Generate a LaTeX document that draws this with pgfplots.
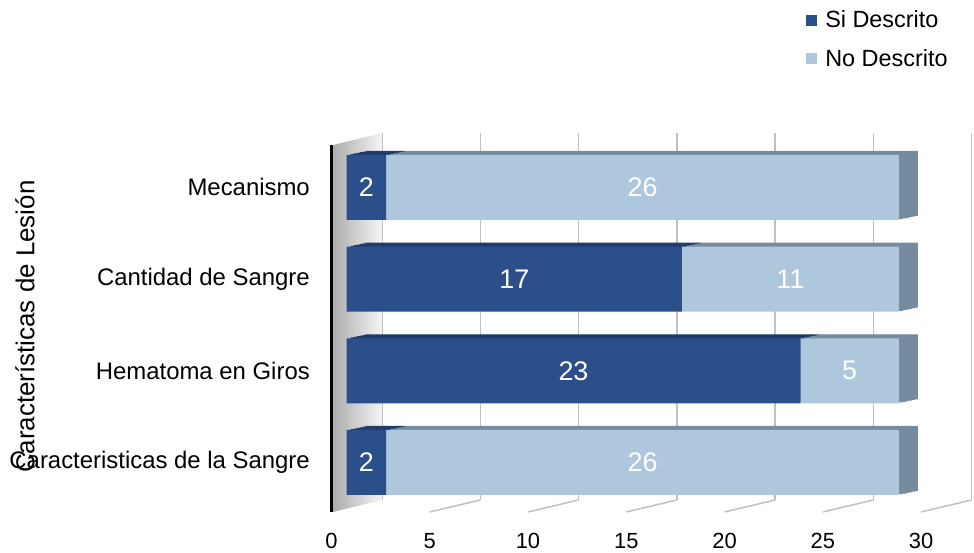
\documentclass[border=0pt]{standalone}
\usepackage{fontspec}
\setmainfont{Liberation Sans}
\usepackage{pgfplots}
\usepackage{pgfplotstable}
\pgfplotsset{compat=1.18}
\definecolor{siblue}{HTML}{2A4F8A}
\definecolor{noblue}{HTML}{AEC7DD}
\definecolor{sitop}{HTML}{1F3C6A}
\definecolor{notop}{HTML}{768B9D}
\definecolor{gridc}{HTML}{C0C0C0}

\pgfplotstableread{
cat si no
0 2 26
1 23 5
2 17 11
3 2 26
}\datatable

\pgfplotsset{
  barbase/.style={
    scale only axis, width=591.6bp, height=367bp,
    xmin=0, xmax=30, ymin=-0.54, ymax=3.463,
    xbar stacked, bar width=65bp,
    hide axis, anchor=south west, clip=false,
  }
}

\begin{document}
\begin{tikzpicture}
% back wall grid
\begin{axis}[scale only axis, width=589.5bp, height=367bp,
  xmin=0, xmax=30, ymin=0, ymax=1, at={(382bp,53bp)}, anchor=south west,
  axis line style={draw=none}, xtick={0,5,...,30}, xticklabels={}, ytick=\empty,
  major tick length=0, xmajorgrids, grid style={gridc, line width=1.5bp}, clip=false]
\pgfplotsinvokeforeach{5,10,...,30}{
  \draw[gridc, line width=1.5bp] (axis cs:#1,0) -- ++(-50.5bp,-12bp);
}
\end{axis}
% side wall
\shade[left color=gray!65, right color=gray!8] (333bp,41bp) -- (333bp,408bp) -- (382bp,420bp) -- (382bp,53bp) -- cycle;
% front frame axis
\begin{axis}[scale only axis, width=589.5bp, height=367bp,
  xmin=0, xmax=30, ymin=-0.54, ymax=3.463, at={(331.5bp,41bp)}, anchor=south west,
  axis lines*=left, x axis line style={draw=none}, y axis line style={black, line width=2bp},
  major tick length=0,
  xtick={0,5,...,30}, ytick={0,1,2,3},
  yticklabels={Caracteristicas de la Sangre, Hematoma en Giros, Cantidad de Sangre, Mecanismo},
  /pgf/number format/assume math mode=true,
  xticklabel style={font=\fontsize{22}{26}\selectfont, inner sep=0pt, anchor=north, yshift=-21bp, text height=15.5bp, text depth=0pt},
  yticklabel style={font=\fontsize{24}{28}\selectfont, inner sep=0pt, anchor=east, xshift=-21.5bp},
  ylabel={Características de Lesión},
  ylabel style={font=\fontsize{26}{30}\selectfont, at={(axis description cs:-0.52,0.505)}, anchor=center},
]
\end{axis}
% 3D extrusion copies
\foreach \s in {19,16,13,10,7,4}{
\begin{axis}[barbase, at={({(346.7+\s)*1bp},{(41+0.21*\s)*1bp})}]
\addplot[fill=sitop, draw=none] table[x=si, y=cat]{\datatable};
\addplot[fill=notop, draw=none] table[x=no, y=cat]{\datatable};
\end{axis}
}
% front bars
\begin{axis}[barbase, at={(346.7bp,41bp)},
  legend style={at={(axis description cs:0.7765,1.371)}, anchor=north west, draw=none, fill=none,
    font=\fontsize{23.5}{28}\selectfont, row sep=16bp, inner sep=0pt},
  legend image code/.code={\fill[#1] (0bp,-5.5bp) rectangle (11bp,5.5bp); \path (17bp,0bp);},
  legend cell align=left,
  /pgf/number format/assume math mode=true,
  nodes near coords={\pgfmathprintnumber{\rawx}},
  visualization depends on=rawx \as \rawx,
  every node near coord/.append style={anchor=center, text=white, font=\fontsize{27}{31}\selectfont},
]
\addplot[fill=siblue, draw=none] table[x=si, y=cat]{\datatable};
\addplot[fill=noblue, draw=none] table[x=no, y=cat]{\datatable};
\legend{Si Descrito, No Descrito}
\end{axis}
\pgfresetboundingbox
\useasboundingbox (0bp,0bp) rectangle (974bp,553bp);
\end{tikzpicture}
\end{document}
